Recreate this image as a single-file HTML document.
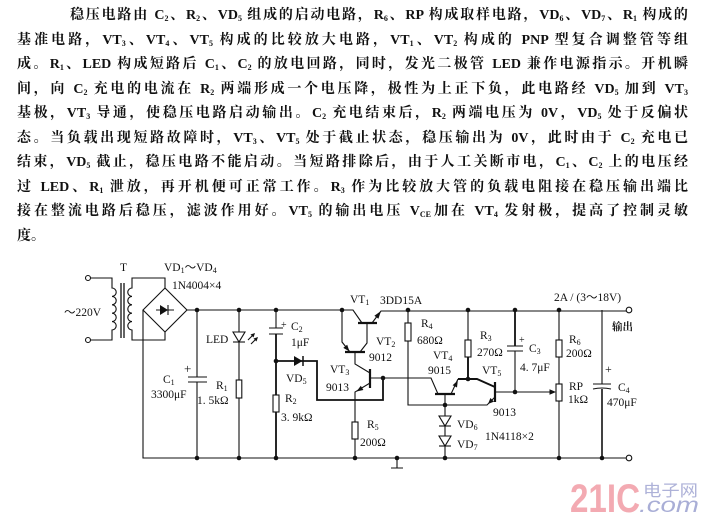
<!DOCTYPE html>
<html lang="zh">
<head>
<meta charset="utf-8">
<style>
html,body{margin:0;padding:0;background:#fff;}
body{width:712px;height:524px;position:relative;overflow:hidden;}
.ln{position:absolute;left:17px;width:671px;height:25px;line-height:25px;font-size:14px;
font-family:"Liberation Serif","Noto Serif CJK SC",serif;font-weight:bold;color:#111;
text-align:justify;text-align-last:justify;white-space:normal;}
.s{font-size:8px;vertical-align:-2px;line-height:0;}
svg{position:absolute;left:0;top:0;}
</style>
</head>
<body>
<div class="ln" style="left:70px;width:618px;top:3px;">稳压电路由 C<span class="s">2</span>、R<span class="s">2</span>、VD<span class="s">5</span> 组成的启动电路，R<span class="s">6</span>、RP 构成取样电路，VD<span class="s">6</span>、VD<span class="s">7</span>、R<span class="s">1</span> 构成的</div>
<div class="ln" style="top:27.5px;">基准电路，VT<span class="s">3</span>、VT<span class="s">4</span>、VT<span class="s">5</span> 构成的比较放大电路，VT<span class="s">1</span>、VT<span class="s">2</span> 构成的 PNP 型复合调整管等组</div>
<div class="ln" style="top:52px;">成。R<span class="s">1</span>、LED 构成短路后 C<span class="s">1</span>、C<span class="s">2</span> 的放电回路，同时，发光二极管 LED 兼作电源指示。开机瞬</div>
<div class="ln" style="top:76.5px;">间，向 C<span class="s">2</span> 充电的电流在 R<span class="s">2</span> 两端形成一个电压降，极性为上正下负，此电路经 VD<span class="s">5</span> 加到 VT<span class="s">3</span></div>
<div class="ln" style="top:101px;">基极，VT<span class="s">3</span> 导通，使稳压电路启动输出。C<span class="s">2</span> 充电结束后，R<span class="s">2</span> 两端电压为 0V，VD<span class="s">5</span> 处于反偏状</div>
<div class="ln" style="top:125.5px;">态。当负载出现短路故障时，VT<span class="s">3</span>、VT<span class="s">5</span> 处于截止状态，稳压输出为 0V，此时由于 C<span class="s">2</span> 充电已</div>
<div class="ln" style="top:150px;">结束，VD<span class="s">5</span> 截止，稳压电路不能启动。当短路排除后，由于人工关断市电，C<span class="s">1</span>、C<span class="s">2</span> 上的电压经</div>
<div class="ln" style="top:174.5px;">过 LED、R<span class="s">1</span> 泄放，再开机便可正常工作。R<span class="s">3</span> 作为比较放大管的负载电阻接在稳压输出端比</div>
<div class="ln" style="top:199px;">接在整流电路后稳压，滤波作用好。VT<span class="s">5</span> 的输出电压 V<span class="s">CE</span>加在 VT<span class="s">4</span> 发射极，提高了控制灵敏</div>
<div class="ln" style="top:223.5px;text-align:left;text-align-last:left;">度。</div>

<svg width="712" height="524" viewBox="0 0 712 524" xmlns="http://www.w3.org/2000/svg">
<g stroke="#111" stroke-width="1.1" fill="none" stroke-linejoin="miter">
  <!-- transformer primary -->
  <path d="M90.5,278 H112 V288 a4.2,4.2 0 0 1 0,8.4 a4.2,4.2 0 0 1 0,8.4 a4.2,4.2 0 0 1 0,8.4 a4.2,4.2 0 0 1 0,8.4 a4.2,4.2 0 0 1 0,8.4 V340 H90.5"/>
  <circle cx="88" cy="278" r="2.5"/>
  <circle cx="88" cy="340" r="2.5"/>
  <path d="M121,283 V338 M124,283 V338" stroke-width="1.3"/>
  <!-- secondary -->
  <path d="M165,288 V278 H132 V288 a4.2,4.2 0 0 0 0,8.4 a4.2,4.2 0 0 0 0,8.4 a4.2,4.2 0 0 0 0,8.4 a4.2,4.2 0 0 0 0,8.4 a4.2,4.2 0 0 0 0,8.4 V340 H165 V332"/>
  <!-- bridge -->
  <polygon points="165,288 187,310 165,332 143,310"/>
  <path d="M156,310 H174 M168,305 V315"/>
  <!-- rails -->
  <path d="M143,310 V458 H626"/>
  <path d="M187,310 H353 L362,323"/>
  <path d="M372,323 L381,311 H626"/>
  <circle cx="629" cy="310" r="2.8"/>
  <circle cx="629" cy="458" r="2.8"/>
  <!-- C1 -->
  <path d="M197,310 V377 M188,377 H207 M188,382 H207 M197,382 V458"/>
  <!-- LED / R1 -->
  <path d="M239,310 V332 M239,342 V380 M239,398 V458"/>
  <polygon points="233,332 245,332 239,342"/>
  <path d="M233,342 H245"/>
  <path d="M248,340 L254,334 M251,344 L257,338"/>
  <rect x="236.2" y="380" width="5.6" height="18" fill="#fff"/>
  <!-- C2 / R2 -->
  <path d="M276,310 V328 M269,328 H283 M269,334 H283"/>
  <path d="M276,334 V395 M276,412 V458" stroke-width="1.8"/>
  <rect x="273" y="395" width="6" height="17" fill="#fff"/>
  <!-- VD5 loop -->
  <path d="M276,361 H317 V400 H383 V378" stroke-width="1.8"/>
  <path d="M303,356 V366" stroke-width="1.5"/>
  <!-- VT1 -->
  <path d="M358,323 H377" stroke-width="2.2"/>
  <path d="M367,323 V343 L360,352"/>
  <!-- VT2 -->
  <path d="M345,352 H365" stroke-width="2.2"/>
  <path d="M350,352 L342,342 V310"/>
  <!-- VT3 -->
  <path d="M370,369 V388" stroke-width="2.2"/>
  <path d="M370,373 L355,364 V352"/>
  <path d="M370,383 L355,392 V422 M355,439 V458"/>
  <rect x="352" y="422" width="6" height="17" fill="#fff"/>
  <path d="M370,378 H431 L438,394"/>
  <!-- ground -->
  <path d="M397,458 V468 M391,468 H403"/>
  <!-- R4 -->
  <path d="M408,310 V323 M408,341 V405 H487 L495,397"/>
  <rect x="405" y="323" width="6" height="18" fill="#fff"/>
  <!-- VT4 -->
  <path d="M435,394 H455" stroke-width="2.2"/>
  <path d="M451,394 L458,379"/>
  <path d="M445,394 V405"/>
  <path d="M458,379 H477 L495,387" stroke-width="1.9"/>
  <!-- R3 -->
  <path d="M468,310 V340"/>
  <path d="M468,357 V379" stroke-width="1.9"/>
  <rect x="465" y="340" width="6" height="17" fill="#fff"/>
  <!-- VD6 VD7 -->
  <path d="M445,405 V458"/>
  <polygon points="439,416 451,416 445,426" fill="#fff"/>
  <path d="M439,426 H451"/>
  <polygon points="439,436 451,436 445,446" fill="#fff"/>
  <path d="M439,446 H451"/>
  <!-- VT5 -->
  <path d="M495,382 V402" stroke-width="2.2"/>
  <path d="M495,392 H551"/>
  <!-- C3 -->
  <path d="M515,310 V346" stroke-width="1.8"/>
  <path d="M507,346 H523 M507,351 H523 M515,351 V392"/>
  <!-- R6 / RP -->
  <path d="M559,310 V340 M559,357 V384 M559,401 V458"/>
  <rect x="556" y="340" width="6" height="17" fill="#fff"/>
  <rect x="556" y="384" width="6" height="17" fill="#fff"/>
  <!-- C4 -->
  <path d="M602,310 V384 M593,384 H611"/>
  <path d="M593,389 Q602,387 611,389"/>
  <path d="M602,389 V458" stroke-width="1.6"/>
</g>
<g fill="#111" stroke="none">
  <polygon points="160,305 160,315 168,310"/>
  <polygon points="294,356 294,366 302.5,361"/>
  <!-- arrowheads -->
  <polygon points="381,311 378.4,318.8 374.4,315.8"/>
  <polygon points="349.5,351.5 347.2,344.7 343.3,347.9"/>
  <polygon points="356.5,391.5 363.4,390 360.8,385.8"/>
  <polygon points="457.8,380.5 457,387.5 452.6,385.3"/>
  <polygon points="488,404 494,401.6 490.4,398"/>
  <polygon points="556,392 549.5,389.3 549.5,394.7"/>
  <polygon points="255,333 250.5,334.5 253.5,337.5"/>
  <polygon points="258,337 253.5,338.5 256.5,341.5"/>
  <!-- dots -->
  <circle cx="197" cy="310" r="2.3"/><circle cx="239" cy="310" r="2.3"/>
  <circle cx="276" cy="310" r="2.3"/><circle cx="342" cy="310" r="2.3"/>
  <circle cx="408" cy="310" r="2.3"/><circle cx="468" cy="310" r="2.3"/>
  <circle cx="515" cy="310" r="2.3"/><circle cx="559" cy="310" r="2.3"/>
  <circle cx="276" cy="361" r="2.3"/><circle cx="383" cy="378" r="2.3"/>
  <circle cx="468" cy="379" r="2.3"/><circle cx="445" cy="405" r="2.3"/>
  <circle cx="515" cy="392" r="2.3"/>
  <circle cx="197" cy="458" r="2.3"/><circle cx="239" cy="458" r="2.3"/>
  <circle cx="276" cy="458" r="2.3"/><circle cx="355" cy="458" r="2.3"/>
  <circle cx="397" cy="458" r="2.3"/><circle cx="445" cy="458" r="2.3"/>
  <circle cx="559" cy="458" r="2.3"/><circle cx="602" cy="458" r="2.3"/>
</g>
<g font-family="Liberation Serif, serif" font-size="11.5" fill="#111">
  <text x="120" y="271">T</text>
  <text x="164" y="271">VD<tspan font-size="8" dy="2">1</tspan><tspan dy="-2">～VD</tspan><tspan font-size="8" dy="2">4</tspan></text>
  <text x="172" y="289">1N4004×4</text>
  <text x="64" y="316">～220V</text>
  <text x="184" y="373" font-size="13">+</text>
  <text x="163" y="383">C<tspan font-size="8" dy="2">1</tspan></text>
  <text x="151" y="398">3300μF</text>
  <text x="206" y="343">LED</text>
  <text x="216" y="389">R<tspan font-size="8" dy="2">1</tspan></text>
  <text x="197" y="404">1. 5kΩ</text>
  <text x="281" y="328" font-size="10">+</text>
  <text x="291" y="330">C<tspan font-size="8" dy="2">2</tspan></text>
  <text x="291" y="346">1μF</text>
  <text x="286" y="382">VD<tspan font-size="8" dy="2">5</tspan></text>
  <text x="285" y="402">R<tspan font-size="8" dy="2">2</tspan></text>
  <text x="281" y="421">3. 9kΩ</text>
  <text x="350" y="303">VT<tspan font-size="8" dy="2">1</tspan></text>
  <text x="380" y="304">3DD15A</text>
  <text x="376" y="345">VT<tspan font-size="8" dy="2">2</tspan></text>
  <text x="369" y="361">9012</text>
  <text x="330" y="373">VT<tspan font-size="8" dy="2">3</tspan></text>
  <text x="326" y="391">9013</text>
  <text x="367" y="428">R<tspan font-size="8" dy="2">5</tspan></text>
  <text x="360" y="446">200Ω</text>
  <text x="421" y="327">R<tspan font-size="8" dy="2">4</tspan></text>
  <text x="417" y="344">680Ω</text>
  <text x="433" y="359">VT<tspan font-size="8" dy="2">4</tspan></text>
  <text x="428" y="374">9015</text>
  <text x="457" y="428">VD<tspan font-size="8" dy="2">6</tspan></text>
  <text x="457" y="448">VD<tspan font-size="8" dy="2">7</tspan></text>
  <text x="480" y="339">R<tspan font-size="8" dy="2">3</tspan></text>
  <text x="477" y="356">270Ω</text>
  <text x="482" y="374">VT<tspan font-size="8" dy="2">5</tspan></text>
  <text x="493" y="416">9013</text>
  <text x="485" y="440">1N4118×2</text>
  <text x="519" y="343" font-size="10">+</text>
  <text x="529" y="352">C<tspan font-size="8" dy="2">3</tspan></text>
  <text x="520" y="371">4. 7μF</text>
  <text x="569" y="343">R<tspan font-size="8" dy="2">6</tspan></text>
  <text x="566" y="357">200Ω</text>
  <text x="569" y="390">RP</text>
  <text x="568" y="403">1kΩ</text>
  <text x="605" y="373" font-size="12">+</text>
  <text x="618" y="391">C<tspan font-size="8" dy="2">4</tspan></text>
  <text x="607" y="406">470μF</text>
  <text x="554" y="301">2A / (3～18V)</text>
  <text x="612" y="330" font-family="Liberation Serif, Noto Serif CJK SC, serif" font-size="10.5" font-weight="bold">输出</text>
</g>
<g>
  <text x="570" y="512" font-family="Liberation Sans, sans-serif" font-weight="bold" font-size="40" fill="#f3aab2" textLength="70" lengthAdjust="spacingAndGlyphs">21IC</text>
  <text x="643" y="496" font-family="Noto Sans CJK SC, sans-serif" font-size="16" fill="#aeb2d8" textLength="55" lengthAdjust="spacingAndGlyphs">电子网</text>
  <text x="639" y="512" font-family="Liberation Sans, sans-serif" font-style="italic" font-size="21" fill="#a9aed6" textLength="60" lengthAdjust="spacingAndGlyphs">.com</text>
</g>
</svg>
</body>
</html>
